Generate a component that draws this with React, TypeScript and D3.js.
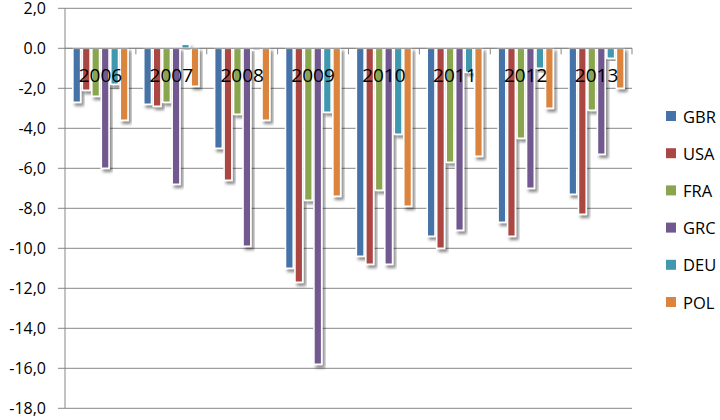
import React from 'react';
import * as d3 from 'd3';

const years = ['2006', '2007', '2008', '2009', '2010', '2011', '2012', '2013'];
const seriesNames = ['GBR', 'USA', 'FRA', 'GRC', 'DEU', 'POL'];
const GBR = [-2.7, -2.8, -5.0, -11.0, -10.4, -9.4, -8.7, -7.3];
const USA = [-2.1, -2.9, -6.6, -11.7, -10.8, -10.0, -9.4, -8.3];
const FRA = [-2.4, -2.7, -3.3, -7.6, -7.1, -5.7, -4.5, -3.1];
const GRC = [-6.0, -6.8, -9.9, -15.8, -10.8, -9.1, -7.0, -5.3];
const DEU = [-1.8, 0.2, -0.1, -3.2, -4.3, -1.2, -1.0, -0.5];
const POL = [-3.6, -1.9, -3.6, -7.4, -7.9, -5.4, -3.0, -2.0];
const seriesValues = [GBR, USA, FRA, GRC, DEU, POL];
const colors = ['#4572A7', '#AA4643', '#89A54E', '#71588F', '#4198AF', '#DB843D'];
const yTicks = [2, 0, -2, -4, -6, -8, -10, -12, -14, -16, -18];

const W = 720;
const H = 420;
const left = 65;
const right = 632;
const top = 8.3;
const bottom = 408.3;

const fmt = (v: number) => (v === 0 ? '0.0' : v.toFixed(1).replace('.', ','));

export default function App() {
  const y = d3.scaleLinear().domain([-18, 2]).range([bottom, top]);
  const x0 = d3.scaleBand<string>().domain(years).range([left, right]).padding(0);
  const bw = x0.bandwidth();
  const x1 = d3.scaleBand<string>().domain(seriesNames).range([7, bw - 7]).padding(0);
  const step = x1.bandwidth();
  const barW = step - 1.7;
  const font = "'Open Sans', 'DejaVu Sans', sans-serif";
  const legendY = d3.scalePoint<string>().domain(seriesNames).range([116, 302]);

  return (
    <svg width={W} height={H} style={{ position: 'absolute', left: 0, top: 0, background: '#fff' }}>
      <defs>
        <filter id="shadow" x="-50%" y="-10%" width="200%" height="130%">
          <feDropShadow dx="2.5" dy="3" stdDeviation="1.8" floodColor="#000" floodOpacity="0.45" />
        </filter>
      </defs>
      <rect x={0} y={0} width={W} height={H} fill="#fff" />
      {yTicks.map((t) => (
        <line key={'g' + t} x1={left - 7} x2={right} y1={y(t)} y2={y(t)} stroke="#868686" strokeWidth={1} />
      ))}
      {yTicks.map((t) => (
        <text
          key={'yl' + t}
          x={46}
          y={y(t) + 5.8}
          textAnchor="end"
          fontFamily={font}
          fontSize={16}
          fill="#000"
        >
          {fmt(t)}
        </text>
      ))}
      {seriesNames.map((s, si) => (
        <g key={s}>
          {years.map((yr, i) => {
            const v = seriesValues[si][i];
            const yy = Math.min(y(v), y(0));
            const hh = Math.abs(y(v) - y(0));
            const bx = (x0(yr) as number) + (x1(s) as number) + 0.85;
            return (
              <rect
                key={yr}
                x={bx}
                y={yy}
                width={barW}
                height={hh}
                fill={colors[si]}
                stroke="#fff"
                strokeWidth={1.6}
                filter="url(#shadow)"
              />
            );
          })}
        </g>
      ))}
      <line x1={left} x2={left} y1={top} y2={bottom} stroke="#868686" strokeWidth={1} />
      <line x1={left} x2={right} y1={y(0)} y2={y(0)} stroke="#868686" strokeWidth={1} />
      {years.map((yr) => (
        <line
          key={'xt' + yr}
          x1={(x0(yr) as number) + bw}
          x2={(x0(yr) as number) + bw}
          y1={y(0)}
          y2={y(0) + 6}
          stroke="#868686"
          strokeWidth={1}
        />
      ))}
      {years.map((yr) => (
        <text
          key={'xl' + yr}
          x={(x0(yr) as number) + bw / 2}
          y={y(0) + 27}
          textAnchor="middle"
          dominantBaseline="central"
          fontFamily={font}
          fontSize={19}
          fill="#000"
        >
          {yr}
        </text>
      ))}
      {seriesNames.map((s, si) => (
        <g key={'lg' + s}>
          <rect x={666} y={(legendY(s) as number) - 5} width={10} height={10} fill={colors[si]} />
          <text
            x={683}
            y={legendY(s) as number}
            dominantBaseline="central"
            fontFamily={font}
            fontSize={16.5}
            fill="#000"
          >
            {s}
          </text>
        </g>
      ))}
    </svg>
  );
}
